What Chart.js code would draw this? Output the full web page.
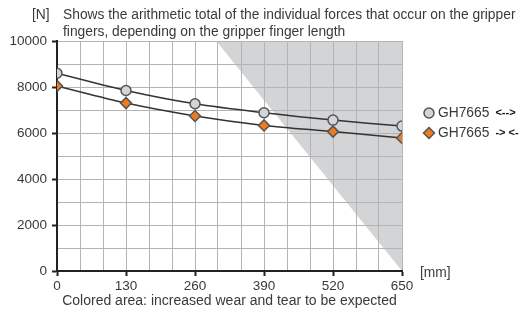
<!DOCTYPE html>
<html>
<head>
<meta charset="utf-8">
<script src="https://cdn.jsdelivr.net/npm/chart.js@4/dist/chart.umd.min.js"></script>
<style>
  html, body { margin: 0; padding: 0; background: #fff; }
  #wrap { width: 520px; height: 313px; }
</style>
</head>
<body>
<div id="wrap"><canvas id="chart" width="520" height="313"></canvas></div>
<script>
// finger length [mm]
const lengths = [0, 130, 260, 390, 520, 650];
// total gripping force [N]
const forceOpen = [8600, 7850, 7270, 6880, 6560, 6300];   // GH7665 <-->
const forceClose = [8040, 7300, 6740, 6330, 6060, 5780];  // GH7665 -> <-
// wear zone corners (length, force)
const wearX = [300, 650];
const wearY = [10000, 0];

const xTicks = [0, 130, 260, 390, 520, 650];
const yTicks = [0, 2000, 4000, 6000, 8000, 10000];

const titleLines = [
  'Shows the arithmetic total of the individual forces that occur on the gripper',
  'fingers, depending on the gripper finger length'
];
const footNote = 'Colored area: increased wear and tear to be expected';
const legendNames = ['GH7665', 'GH7665'];
const legendArrows = ['<-->', '-> <-'];

const FONT = '"Liberation Sans", Arial, sans-serif';
const TEXT = '#3a3a3a';

const isTick = (list, v) => list.some(t => Math.abs(t - v) < 1e-6);

const toPoints = (xs, ys) => xs.map((x, i) => ({ x: x, y: ys[i] }));

// extra labels: title, footnote, unit, legend
const textPlugin = {
  id: 'texts',
  afterDraw(chart) {
    const ctx = chart.ctx;
    const area = chart.chartArea;
    ctx.save();
    ctx.fillStyle = TEXT;
    ctx.font = '13.8px ' + FONT;
    ctx.textBaseline = 'middle';
    ctx.textAlign = 'left';
    ctx.fillText('[N]', 32, 15);
    ctx.fillText(titleLines[0], 63, 15);
    ctx.fillText(titleLines[1], 63, 32);
    ctx.fillText('[mm]', area.right + 18, area.bottom + 2);
    ctx.font = '14px ' + FONT;
    ctx.textAlign = 'center';
    ctx.fillText(footNote, (area.left + area.right) / 2, 301);

    // legend
    const sets = chart.data.datasets.slice(0, 2);
    sets.forEach((ds, i) => {
      const y = 113 + i * 20;
      const x = area.right + 27;
      ctx.fillStyle = ds.pointBackgroundColor;
      ctx.strokeStyle = ds.pointBorderColor;
      ctx.lineWidth = ds.pointBorderWidth;
      Chart.helpers.drawPoint(ctx, {
        pointStyle: ds.pointStyle,
        radius: ds.pointRadius,
        rotation: 0,
        borderWidth: ds.pointBorderWidth
      }, x, y);
      ctx.fillStyle = TEXT;
      ctx.textAlign = 'left';
      ctx.font = '13.8px ' + FONT;
      ctx.fillText(legendNames[i], x + 9, y);
      const w = ctx.measureText(legendNames[i]).width;
      ctx.fillStyle = '#111';
      ctx.font = 'bold 11px ' + FONT;
      ctx.fillText(legendArrows[i], x + 9 + w + 6, y);
    });
    ctx.restore();
  }
};

const config = {
  type: 'line',
  data: {
    datasets: [
      {
        label: legendNames[0] + ' ' + legendArrows[0],
        data: toPoints(lengths, forceOpen),
        borderColor: '#333',
        borderWidth: 1.5,
        tension: 0.3,
        pointStyle: 'circle',
        pointRadius: 5,
        pointBorderWidth: 1.5,
        pointBackgroundColor: '#d4d4dc',
        pointBorderColor: '#555',
        fill: false
      },
      {
        label: legendNames[1] + ' ' + legendArrows[1],
        data: toPoints(lengths, forceClose),
        borderColor: '#333',
        borderWidth: 1.5,
        tension: 0.3,
        pointStyle: 'rectRot',
        pointRadius: 5.5,
        pointBorderWidth: 1.5,
        pointBackgroundColor: '#f07a1e',
        pointBorderColor: '#555',
        fill: false
      },
      {
        label: 'wear',
        data: toPoints(wearX, wearY),
        borderWidth: 0,
        borderColor: 'rgba(0,0,0,0)',
        backgroundColor: '#d3d4d6',
        pointRadius: 0,
        tension: 0,
        fill: 'end'
      }
    ]
  },
  options: {
    responsive: false,
    animation: false,
    layout: { padding: { left: 0, right: 118, top: 41, bottom: 0 } },
    plugins: {
      legend: { display: false },
      tooltip: { enabled: false },
      filler: { drawTime: 'beforeDraw' }
    },
    scales: {
      x: {
        type: 'linear',
        min: 0,
        max: 650,
        afterBuildTicks(scale) {
          // grid every third of a labelled step
          const ticks = [];
          for (let i = 0; i < xTicks.length - 1; i++) {
            const step = (xTicks[i + 1] - xTicks[i]) / 3;
            for (let k = 0; k < 3; k++) ticks.push({ value: xTicks[i] + k * step });
          }
          ticks.push({ value: xTicks[xTicks.length - 1] });
          scale.ticks = ticks;
        },
        afterFit(scale) { scale.height = 42; },
        grid: {
          color: '#b4b4b4',
          lineWidth: 1,
          drawTicks: true,
          tickLength: 5,
          tickWidth: 2,
          tickColor: ctx => isTick(xTicks, ctx.tick.value) ? '#222' : 'rgba(0,0,0,0)'
        },
        border: { color: '#222', width: 2 },
        ticks: {
          autoSkip: false,
          maxRotation: 0,
          padding: 2,
          color: TEXT,
          font: { family: FONT, size: 13.5 },
          callback: v => isTick(xTicks, v) ? String(Math.round(v)) : ''
        }
      },
      y: {
        min: 0,
        max: 10000,
        afterFit(scale) { scale.width = 57; },
        ticks: {
          stepSize: 1000,
          padding: 5,
          color: TEXT,
          font: { family: FONT, size: 13.5 },
          callback: v => isTick(yTicks, v) ? String(v) : ''
        },
        grid: {
          color: '#b4b4b4',
          lineWidth: 1,
          drawTicks: true,
          tickLength: 5,
          tickWidth: 2,
          tickColor: ctx => isTick(yTicks, ctx.tick.value) ? '#222' : 'rgba(0,0,0,0)'
        },
        border: { color: '#222', width: 2 }
      }
    }
  },
  plugins: [textPlugin]
};

new Chart(document.getElementById('chart'), config);
</script>
</body>
</html>
